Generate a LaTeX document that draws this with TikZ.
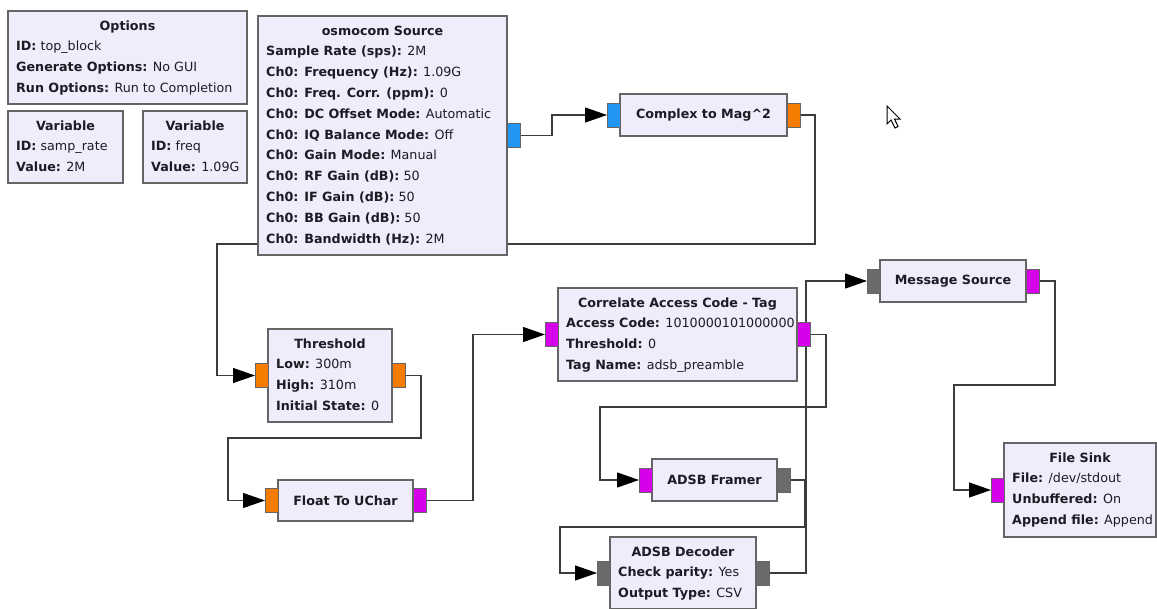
\documentclass[tikz,border=0pt]{standalone}
\usepackage{fontspec}
\setmainfont{DejaVu Sans}
\usetikzlibrary{arrows.meta,backgrounds,calc}
\definecolor{blkfill}{HTML}{F0ECFB}
\definecolor{blkdraw}{HTML}{656565}
\definecolor{pblue}{HTML}{2196F3}
\definecolor{porange}{HTML}{F57C00}
\definecolor{pmag}{HTML}{D600EA}
\definecolor{pgrey}{HTML}{6B6B6B}
\definecolor{wire}{HTML}{3C3C3C}
\definecolor{txt}{HTML}{1C1C24}
\tikzset{
 blk/.style={draw=blkdraw, fill=blkfill, line width=1.2pt, inner sep=0pt, outer sep=0pt, rectangle},
 ttl/.style={font=\bfseries\fontsize{12.7}{15}\selectfont, text=txt, inner sep=0pt},
 lin/.style={font=\fontsize{12.7}{15}\selectfont, text=txt, inner sep=0pt},
 port/.style={draw=blkdraw, line width=1pt, minimum width=13pt, minimum height=24pt, inner sep=0pt, outer sep=0pt, rectangle},
 wirestyle/.style={draw=wire, line width=1.1pt, -{Triangle[length=22pt,width=15pt,color=black]}},
}
\newcommand\grcblock[7]{%
  \node[blk, minimum width={(#4-#2)*1pt}, minimum height={(#5-#3)*1pt}, anchor=north west] (#1) at (#2,#3) {};
  \node[ttl, anchor=base] (#1-t) at ({(#2+#4)/2},{#3+19}) {#6};
  \foreach \l [count=\i] in {#7} \node[lin, anchor=base west] (#1-\i) at ({#2+8},{#3+19+20.8*\i}) {\l};
}
\newcommand\simpleblock[6]{%
  \node[blk, minimum width={(#4-#2)*1pt}, minimum height={(#5-#3)*1pt}, anchor=north west, ttl] (#1) at (#2,#3) {};
  \node[ttl] (#1-t) at (#1.center) {#6};
}
\begin{document}
\begin{tikzpicture}[x=1pt,y=-1pt]
\useasboundingbox (0,0) rectangle (1157,608);

% blocks
\grcblock{opt}{8}{11}{247}{104}{Options}{{\textbf{ID:} top\_block},{\textbf{Generate Options:} No GUI},{\textbf{Run Options:} Run to Completion}}
\grcblock{vone}{8}{111}{123}{183}{Variable}{{\textbf{ID:} samp\_rate},{\textbf{Value:} 2M}}
\grcblock{vtwo}{143}{111}{247}{183}{Variable}{{\textbf{ID:} freq},{\textbf{Value:} 1.09G}}
\grcblock{osm}{258}{16}{507}{255}{osmocom Source}{{\textbf{Sample Rate (sps):} 2M},{\textbf{Ch0: Frequency (Hz):} 1.09G},{\textbf{Ch0: Freq. Corr. (ppm):} 0},{\textbf{Ch0: DC Offset Mode:} Automatic},{\textbf{Ch0: IQ Balance Mode:} Off},{\textbf{Ch0: Gain Mode:} Manual},{\textbf{Ch0: RF Gain (dB):} 50},{\textbf{Ch0: IF Gain (dB):} 50},{\textbf{Ch0: BB Gain (dB):} 50},{\textbf{Ch0: Bandwidth (Hz):} 2M}}
\grcblock{th}{268}{329}{392}{422}{Threshold}{{\textbf{Low:} 300m},{\textbf{High:} 310m},{\textbf{Initial State:} 0}}
\grcblock{co}{558}{288}{797}{381}{Correlate Access Code - Tag}{{\textbf{Access Code:} 1010000101000000},{\textbf{Threshold:} 0},{\textbf{Tag Name:} adsb\_preamble}}
\grcblock{fs}{1004}{443}{1156}{537}{File Sink}{{\textbf{File:} /dev/stdout},{\textbf{Unbuffered:} On},{\textbf{Append file:} Append}}
\grcblock{dec}{610}{537}{756}{609}{ADSB Decoder}{{\textbf{Check parity:} Yes},{\textbf{Output Type:} CSV}}
\simpleblock{cm}{620}{94}{787}{136}{Complex to Mag\textasciicircum 2}
\simpleblock{fl}{278}{480}{413}{521}{Float To UChar}
\simpleblock{fr}{652}{459}{777}{501}{ADSB Framer}
\simpleblock{ms}{880}{260}{1026}{302}{Message Source}

% ports
\node[port, fill=pblue, anchor=west] (osm-o) at (osm.east) {};
\node[port, fill=pblue, anchor=east] (cm-i) at (cm.west) {};
\node[port, fill=porange, anchor=west] (cm-o) at (cm.east) {};
\node[port, fill=porange, anchor=east] (th-i) at (th.west) {};
\node[port, fill=porange, anchor=west] (th-o) at (th.east) {};
\node[port, fill=porange, anchor=east] (fl-i) at (fl.west) {};
\node[port, fill=pmag, anchor=west] (fl-o) at (fl.east) {};
\node[port, fill=pmag, anchor=east] (co-i) at (co.west) {};
\node[port, fill=pmag, anchor=west] (co-o) at (co.east) {};
\node[port, fill=pmag, anchor=east] (fr-i) at (fr.west) {};
\node[port, fill=pgrey, anchor=west] (fr-o) at (fr.east) {};
\node[port, fill=pgrey, anchor=east] (dec-i) at (dec.west) {};
\node[port, fill=pgrey, anchor=west] (dec-o) at (dec.east) {};
\node[port, fill=pgrey, anchor=east] (ms-i) at (ms.west) {};
\node[port, fill=pmag, anchor=west] (ms-o) at (ms.east) {};
\node[port, fill=pmag, anchor=east] (fs-i) at (fs.west) {};

% bend points
\coordinate (b1) at (217,244);
\coordinate (b2) at (228,438);
\coordinate (b3) at (600,407);
\coordinate (b4) at (560,527);
\coordinate (b5) at (954,385);

\begin{scope}[on background layer]
\fill[white] (0,0) rectangle (1157,608);
\draw[wirestyle] (osm-o.east) -- ++(32,0) |- (cm-i.west);
\draw[wirestyle] (cm-o.east) -- ++(15,0) |- (b1) |- (th-i.west);
\draw[wirestyle] (th-o.east) -- ++(16,0) |- (b2) |- (fl-i.west);
\draw[wirestyle] (fl-o.east) -- ++(47,0) |- (co-i.west);
\draw[wirestyle] (co-o.east) -- ++(16,0) |- (b3) |- (fr-i.west);
\draw[wirestyle] (fr-o.east) -- ++(15,0) |- (b4) |- (dec-i.west);
\draw[wirestyle] (dec-o.east) -- ++(37,0) |- (ms-i.west);
\draw[wirestyle] (ms-o.east) -- ++(16,0) |- (b5) |- (fs-i.west);
\end{scope}

% mouse cursor
\draw[fill=white, line width=1pt, line join=miter] (887,106) -- (887,124) -- (891,120) -- (895,128) -- (898,126.5) -- (894.5,119) -- (900,119) -- cycle;
\end{tikzpicture}
\end{document}
